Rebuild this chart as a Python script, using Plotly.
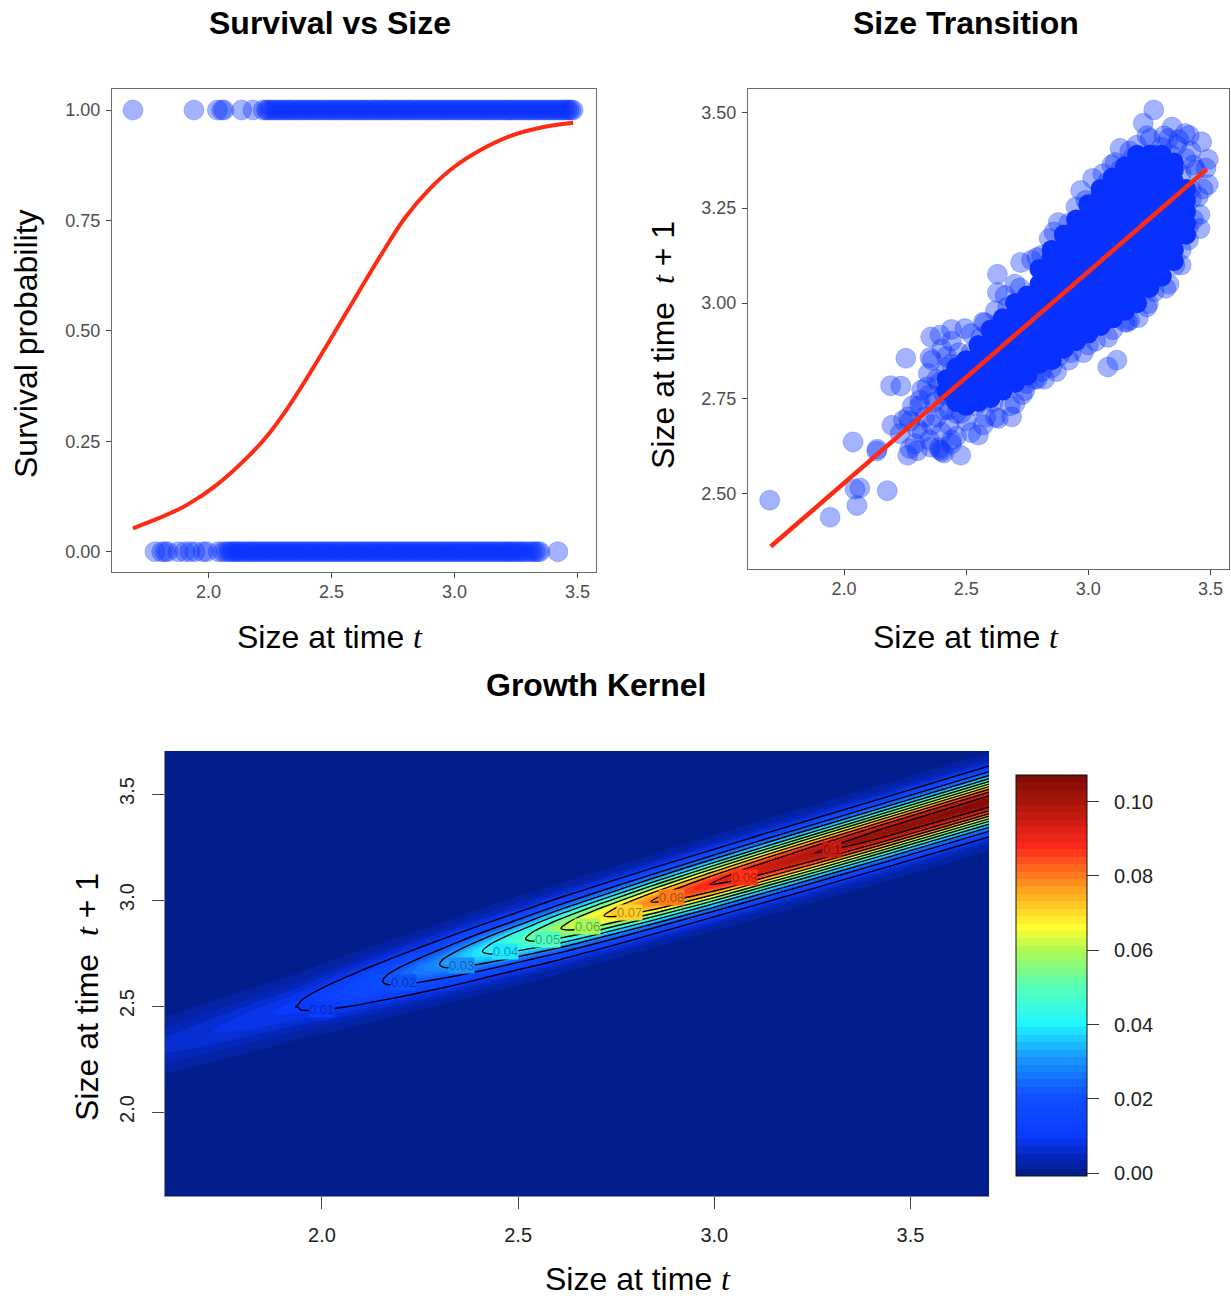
import plotly.graph_objects as go

W, H = 1231, 1296

# ---------- Survival vs Size ----------
survived_size = [1.693,1.941,2.036,2.054,2.063,2.135,2.181,2.223,2.236,2.241,2.252,2.263,2.271,2.279,2.292,2.301,2.309,2.322,2.331,2.338,2.351,2.36,2.372,2.379,2.391,2.402,2.409,2.421,2.43,2.441,2.449,2.462,2.47,2.481,2.492,2.5,2.512,2.521,2.529,2.541,2.552,2.56,2.571,2.582,2.589,2.602,2.61,2.621,2.632,2.64,2.649,2.661,2.672,2.68,2.691,2.7,2.712,2.721,2.73,2.739,2.751,2.762,2.77,2.781,2.79,2.802,2.811,2.82,2.829,2.842,2.85,2.861,2.872,2.88,2.889,2.901,2.91,2.922,2.93,2.941,2.95,2.962,2.97,2.981,2.99,3.001,3.012,3.02,3.031,3.04,3.052,3.06,3.071,3.082,3.09,3.101,3.112,3.12,3.131,3.14,3.15,3.162,3.17,3.181,3.19,3.202,3.211,3.22,3.231,3.24,3.25,3.262,3.271,3.28,3.291,3.302,3.31,3.322,3.33,3.341,3.35,3.362,3.371,3.38,3.39,3.402,3.41,3.421,3.43,3.439,3.449,3.458,3.466,3.474,3.482]
died_size = [1.783,1.81,1.823,1.835,1.877,1.904,1.925,1.945,1.978,1.993,2.04,2.058,2.071,2.083,2.092,2.101,2.112,2.12,2.129,2.141,2.15,2.162,2.171,2.18,2.189,2.201,2.21,2.222,2.23,2.241,2.25,2.262,2.27,2.281,2.29,2.301,2.312,2.32,2.331,2.34,2.352,2.36,2.371,2.38,2.391,2.4,2.412,2.42,2.431,2.44,2.45,2.462,2.47,2.481,2.49,2.501,2.51,2.522,2.53,2.541,2.55,2.561,2.572,2.58,2.591,2.6,2.611,2.62,2.632,2.64,2.651,2.66,2.672,2.68,2.691,2.7,2.711,2.72,2.731,2.742,2.75,2.761,2.77,2.782,2.79,2.801,2.81,2.821,2.83,2.842,2.85,2.861,2.87,2.881,2.89,2.902,2.91,2.921,2.93,2.941,2.95,2.962,2.97,2.981,2.99,3.001,3.01,3.022,3.03,3.041,3.05,3.061,3.07,3.082,3.09,3.101,3.11,3.12,3.132,3.14,3.151,3.16,3.17,3.182,3.19,3.2,3.211,3.22,3.232,3.24,3.25,3.26,3.272,3.28,3.292,3.305,3.316,3.327,3.338,3.347,3.42]
survival_flag_alive = [1.0] * len(survived_size)
survival_flag_dead = [0.0] * len(died_size)
curve_size = [1.693,1.803,1.913,2.035,2.157,2.238,2.319,2.4,2.482,2.587,2.697,2.799,2.9,2.998,3.104,3.226,3.348,3.482]
curve_prob = [0.053,0.077,0.106,0.152,0.213,0.262,0.323,0.393,0.468,0.566,0.668,0.756,0.822,0.871,0.909,0.941,0.96,0.971]

# ---------- Size Transition ----------
edge_t = [3.268,3.225,3.343,3.396,3.413,3.464,3.491,3.482,3.491,3.457,3.457,3.41,3.355,3.317,3.246,3.205,3.17,3.13,3.096,3.018,2.969,2.95,2.877,2.86,2.723,2.628,2.628,2.768,2.809,3.198,3.253,3.328,3.362,3.43,3.423,
          1.696,1.943,2.045,2.065,2.053,2.177,2.037,2.136,2.134,2.253,2.191,2.233,2.196,2.229,2.243,2.263,2.261,2.27,2.3,2.355,2.393,2.409,2.478,2.55,2.632,2.686,2.7,2.355,2.393,2.44,2.495,2.577,2.352,2.345,2.318,2.311,2.748,
          3.08,3.117,3.3,3.27,3.38,3.43,3.45,3.47,3.44,3.42,3.37,3.31,3.24,3.17,3.11,3.06,2.99,2.92,2.84,2.79,2.7,2.66,2.62,2.57,2.52,
          3.15,3.1,3.03,2.98,2.92,2.87,2.82,2.79,2.73,2.68,2.62,2.57,2.52,2.46,2.44,
          2.28,2.33,2.36,2.4,2.43,2.46,2.37,2.41,2.34,2.38,2.42,2.36,2.4,2.44,2.32,2.35,2.39,2.4,2.29,2.3,2.27,2.44,2.38,2.31,2.35,2.41,2.44,2.47,2.46,2.39,
          2.43,2.45,2.47,2.49,2.42,2.44,2.48,2.5,2.52,2.54,2.56,2.58,2.6,2.61,2.64,2.67,2.72,2.74,2.78,2.81,2.85,2.88,2.9,2.93,2.97,3.0,3.04,3.08,3.12,3.16,3.2,3.24,3.28,3.33,3.38,3.41,3.42,3.4,3.38,3.34,3.3,3.26,3.22,3.18,3.13,3.08,3.04,3.0,2.95,2.9,2.85,2.8,2.76,2.71,2.66,2.6,2.55,2.5]
edge_next = [3.508,3.473,3.463,3.446,3.441,3.424,3.378,3.355,3.312,3.233,3.196,3.166,3.1,3.039,2.999,2.962,2.955,3.407,3.363,3.328,3.296,3.253,3.212,3.187,3.107,3.076,3.028,3.113,3.126,3.415,3.433,3.433,3.415,3.363,3.275,
             2.482,2.437,2.511,2.514,2.468,2.507,2.635,2.616,2.611,2.855,2.783,2.782,2.679,2.657,2.692,2.701,2.6,2.618,2.612,2.621,2.614,2.606,2.6,2.653,2.697,2.701,2.736,2.911,2.916,2.931,2.933,2.948,2.857,2.815,2.772,2.745,2.789,
             2.832,2.85,3.07,3.03,3.14,3.22,3.28,3.3,3.35,3.4,3.43,3.44,3.44,3.4,3.37,3.34,3.27,3.21,3.17,3.12,3.05,3.02,2.98,2.95,2.92,
             2.95,2.93,2.9,2.87,2.85,2.82,2.8,2.8,2.76,2.73,2.7,2.68,2.66,2.65,2.63,
             2.73,2.7,2.68,2.66,2.68,2.71,2.74,2.76,2.78,2.8,2.83,2.85,2.88,2.9,2.66,2.64,2.62,2.61,2.63,2.67,2.69,2.64,2.7,2.73,2.76,2.72,2.8,2.87,2.83,2.79,
             2.72,2.75,2.78,2.82,2.86,2.84,2.71,2.69,2.87,2.73,2.91,2.7,2.93,2.74,2.95,2.99,3.04,2.77,2.8,2.82,2.83,2.86,3.12,2.87,3.17,2.89,3.24,2.91,3.33,2.95,3.38,2.99,3.39,3.05,3.1,3.2,3.3,3.38,3.34,3.39,3.41,3.39,3.37,3.38,3.35,3.32,3.27,3.24,3.19,3.14,3.1,3.04,2.98,2.94,2.9,2.86,2.81,2.77]
core_columns = [2.42,2.46,2.5,2.55,2.6,2.65,2.7,2.75,2.8,2.85,2.9,2.95,3.0,3.05,3.1,3.15,3.2,3.25,3.3,3.35,3.4]
core_next = [
 [2.77,2.8],
 [2.74,2.77,2.8,2.83],
 [2.73,2.76,2.79,2.82,2.85],
 [2.74,2.77,2.8,2.83,2.86,2.89],
 [2.75,2.78,2.81,2.84,2.87,2.9,2.93],
 [2.77,2.8,2.83,2.86,2.89,2.92,2.96],
 [2.79,2.82,2.85,2.88,2.91,2.94,2.97,3.0],
 [2.81,2.84,2.87,2.9,2.93,2.96,2.99,3.02],
 [2.84,2.87,2.9,2.93,2.96,2.99,3.02,3.05,3.09],
 [2.85,2.88,2.91,2.94,2.97,3.0,3.03,3.06,3.09,3.12,3.14],
 [2.88,2.91,2.94,2.97,3.0,3.03,3.06,3.09,3.12,3.15,3.18],
 [2.9,2.93,2.96,2.99,3.02,3.05,3.08,3.11,3.14,3.17,3.2,3.22],
 [2.92,2.95,2.98,3.01,3.04,3.07,3.1,3.14,3.17,3.2,3.23,3.26],
 [2.94,2.97,3.0,3.03,3.06,3.09,3.12,3.16,3.19,3.22,3.25,3.28,3.3],
 [2.96,2.99,3.02,3.05,3.08,3.11,3.14,3.17,3.2,3.23,3.27,3.3,3.33],
 [2.98,3.01,3.04,3.07,3.1,3.13,3.16,3.19,3.22,3.25,3.28,3.31,3.34,3.36],
 [3.0,3.03,3.06,3.09,3.12,3.16,3.19,3.22,3.25,3.28,3.31,3.34,3.37,3.39],
 [3.04,3.07,3.1,3.13,3.16,3.19,3.22,3.25,3.28,3.31,3.34,3.37,3.39],
 [3.07,3.1,3.13,3.16,3.19,3.22,3.25,3.28,3.31,3.34,3.37,3.39],
 [3.11,3.14,3.17,3.2,3.23,3.26,3.29,3.32,3.35,3.37],
 [3.18,3.21,3.24,3.27,3.3],
]
fit_t = [1.7,3.485]
fit_next = [2.36,3.352]

# ---------- Growth Kernel: values read across the ridge at each station ----------
station_t = [1.6,1.75,1.94,2.05,2.155,2.3,2.41,2.52,2.61,2.72,2.84,2.99,3.13,3.26,3.45,3.7]
ridge_next = [2.314,2.396,2.5,2.56,2.618,2.697,2.758,2.818,2.867,2.927,2.993,3.075,3.152,3.223,3.327,3.465]
offset_half = [0,0.02,0.04,0.06,0.08,0.1,0.13,0.16,0.19,0.22,0.26,0.3]
density_half = [
 [.0058,.0056,.0051,.0042,.0033,.0024,.0013,.0006,.0003,.0001,0,0],
 [.0075,.0072,.0065,.0055,.0043,.0032,.0017,.0008,.0003,.0001,0,0],
 [.0101,.0098,.0088,.0074,.0058,.0043,.0023,.0011,.0004,.0002,0,0],
 [.0147,.0142,.0128,.0108,.0085,.0062,.0034,.0016,.0006,.0002,0,0],
 [.0201,.0194,.0175,.0147,.0116,.0085,.0047,.0022,.0009,.0003,.0001,0],
 [.0301,.0291,.0262,.0220,.0173,.0127,.0070,.0033,.0013,.0005,.0001,0],
 [.0401,.0387,.0349,.0294,.0231,.0169,.0093,.0044,.0018,.0006,.0001,0],
 [.0501,.0484,.0436,.0367,.0288,.0211,.0116,.0055,.0022,.0008,.0001,0],
 [.0601,.0581,.0523,.0440,.0346,.0253,.0139,.0066,.0026,.0009,.0002,0],
 [.0701,.0677,.0611,.0513,.0403,.0295,.0163,.0076,.0031,.0011,.0002,0],
 [.0801,.0774,.0698,.0586,.0461,.0337,.0186,.0087,.0035,.0012,.0002,0],
 [.0901,.0870,.0785,.0660,.0518,.0379,.0209,.0098,.0040,.0014,.0003,0],
 [.0960,.0927,.0836,.0703,.0552,.0404,.0223,.0105,.0042,.0015,.0003,0],
 [.1001,.0967,.0872,.0733,.0576,.0421,.0232,.0109,.0044,.0015,.0003,0],
 [.1040,.1005,.0906,.0761,.0598,.0438,.0241,.0113,.0046,.0016,.0003,0],
 [.1070,.1034,.0932,.0783,.0615,.0450,.0248,.0117,.0047,.0016,.0003,0],
]
contour_labels = ["0.01","0.02","0.03","0.04","0.05","0.06","0.07","0.08","0.09","0.1"]
label_t = [1.998,2.207,2.355,2.467,2.574,2.678,2.783,2.89,3.076,3.3]
label_next = [2.486,2.609,2.689,2.755,2.816,2.877,2.939,3.01,3.104,3.24]
label_patch = ["#0a3cff","#0f50ff","#1a90ff","#20e8ff","#50ffc0","#a5f85a","#ffd028","#ff7a1e","#ff3018","#c81c10"]
kernel_ticks = [0,0.02,0.04,0.06,0.08,0.1]

BLUE = "rgb(8,50,255)"
GHOST = "rgba(8,50,255,0.37)"
GHOST_RIM = "rgba(8,50,255,0.25)"
RED = "#ff2a12"
NAVY = "#021e8a"
scale = [[0.0,"#021a80"],[0.05,"#0428c0"],[0.1,"#0a3cff"],[0.2,"#0f50ff"],[0.3,"#1a9cff"],[0.38,"#20f8ff"],[0.47,"#55ffb8"],[0.56,"#aaf855"],[0.62,"#ffff30"],[0.7,"#ffb020"],[0.75,"#ff7a1e"],[0.82,"#ff2a1c"],[0.89,"#c81c10"],[1.0,"#7a0c05"]]

def px_x(a, b): return [a / W, b / W]
def px_y(t, b): return [1 - b / H, 1 - t / H]

fig = go.Figure()

# Panel 1
for xs, ys in ((survived_size, survival_flag_alive), (died_size, survival_flag_dead)):
    fig.add_trace(go.Scatter(x=xs, y=ys, mode="markers", xaxis="x", yaxis="y", showlegend=False,
                             marker=dict(size=20, color=GHOST, line=dict(width=1, color=GHOST_RIM))))
fig.add_trace(go.Scatter(x=curve_size, y=curve_prob, mode="lines", xaxis="x", yaxis="y", showlegend=False,
                         line=dict(color=RED, width=4, shape="spline", smoothing=1)))

# Panel 2
core_t = [c for c, col in zip(core_columns, core_next) for _ in col]
core_y = [v for col in core_next for v in col]
fig.add_trace(go.Scatter(x=core_t, y=core_y, mode="markers", xaxis="x2", yaxis="y2", showlegend=False,
                         marker=dict(size=20, color=BLUE)))
fig.add_trace(go.Scatter(x=edge_t, y=edge_next, mode="markers", xaxis="x2", yaxis="y2", showlegend=False,
                         marker=dict(size=20, color=GHOST, line=dict(width=1, color=GHOST_RIM))))
fig.add_trace(go.Scatter(x=fit_t, y=fit_next, mode="lines", xaxis="x2", yaxis="y2", showlegend=False,
                         line=dict(color=RED, width=4.5)))

# Panel 3
offsets = [-o for o in offset_half[:0:-1]] + offset_half
density = [[row[abs(i - 11)] for row in density_half] for i in range(23)]
grid_x = [[x for x in station_t] for _ in offsets]
grid_y = [[r + o for r in ridge_next] for o in offsets]
fig.add_trace(go.Carpet(carpet="k", a=station_t, b=offsets, x=grid_x, y=grid_y, xaxis="x3", yaxis="y3",
                        aaxis=dict(showgrid=False, startline=False, endline=False, showticklabels="none", smoothing=0, minorgridcount=0),
                        baxis=dict(showgrid=False, startline=False, endline=False, showticklabels="none", smoothing=0, minorgridcount=0)))
fig.add_trace(go.Contourcarpet(carpet="k", a=station_t, b=offsets, z=density, xaxis="x3", yaxis="y3",
                               colorscale=scale, zauto=False, zmin=-0.0008, zmax=0.1072, autocontour=False,
                               contours=dict(start=-0.0008, end=0.1072, size=0.002, coloring="fill", showlines=False),
                               line=dict(width=0),
                               colorbar=dict(thickness=71, thicknessmode="pixels", len=401, lenmode="pixels",
                                             x=1016 / W, xanchor="left", y=1 - 775 / H, yanchor="top", xpad=0, ypad=0,
                                             outlinecolor="#111", outlinewidth=1, ticks="outside", ticklen=12, tickwidth=1.3,
                                             tickcolor="#333", tickvals=kernel_ticks, ticktext=["&nbsp;&nbsp;%.2f" % t for t in kernel_ticks],
                                             tickfont=dict(size=20, color="#222"))))
fig.add_trace(go.Contourcarpet(carpet="k", a=station_t, b=offsets, z=density, xaxis="x3", yaxis="y3", showscale=False,
                               autocontour=False, contours=dict(start=0.01, end=0.1, size=0.01, coloring="none"),
                               line=dict(color="black", width=1.4)))

ax_common = dict(showgrid=False, zeroline=False, showline=True, mirror=True, linecolor="#6b6b6b", linewidth=1.4,
                 ticks="outside", ticklen=5, tickwidth=1.4, tickcolor="#444", tickfont=dict(size=18, color="#4d4d4d"))
heat_ax = dict(showgrid=False, zeroline=False, showline=True, linecolor="#8a8a8a", linewidth=1,
               ticks="outside", ticklen=12, tickwidth=1.3, tickcolor="#444", tickfont=dict(size=20, color="#222"))

t_math = "<i><span style=\"font-family:'Liberation Serif'\">t</span></i>"
def note(text, x, y, size=32, angle=0, color="black", bold=False):
    return dict(text="<b>%s</b>" % text if bold else text, x=x / W, y=1 - y / H, xref="paper", yref="paper",
                showarrow=False, xanchor="center", yanchor="middle", textangle=angle, font=dict(size=size, color=color))
annos = [
    note("Survival vs Size", 330, 23, bold=True),
    note("Size Transition", 966, 23, bold=True),
    note("Growth Kernel", 596, 685, bold=True),
    note("Survival probability", 26, 344, angle=-90),
    note("Size at time " + t_math, 330, 637),
    note("Size at time " + t_math, 966, 637),
    note("Size at time &nbsp;" + t_math + " + 1", 663, 345, angle=-90),
    note("Size at time " + t_math, 638, 1279),
    note("Size at time &nbsp;" + t_math + " + 1", 87, 997, angle=-90),
]
for txt, xv, yv, bg in zip(contour_labels, label_t, label_next, label_patch):
    annos.append(dict(text=txt, x=xv, y=yv, xref="x3", yref="y3", showarrow=False, bgcolor=bg, borderpad=0,
                      font=dict(size=13, color="rgba(0,0,0,0.38)")))

fig.update_layout(
    width=W, height=H, margin=dict(l=0, r=0, t=0, b=0), paper_bgcolor="white", plot_bgcolor="white", showlegend=False,
    font=dict(family="Liberation Sans, Arial, sans-serif"),
    xaxis=dict(domain=px_x(112, 596), range=[1.608, 3.575], tickvals=[2, 2.5, 3, 3.5], ticktext=["2.0", "2.5", "3.0", "3.5"], ticklabelstandoff=-2, **ax_common),
    yaxis=dict(domain=px_y(89, 572), range=[-0.046, 1.0476], tickvals=[0, 0.25, 0.5, 0.75, 1], ticktext=["0.00", "0.25", "0.50", "0.75", "1.00"], ticklabelstandoff=2, **ax_common),
    xaxis2=dict(domain=px_x(748, 1229), anchor="y2", range=[1.607, 3.576], tickvals=[2, 2.5, 3, 3.5], ticktext=["2.0", "2.5", "3.0", "3.5"], ticklabelstandoff=-2, **ax_common),
    yaxis2=dict(domain=px_y(89, 569), anchor="x2", range=[2.301, 3.563], tickvals=[2.5, 2.75, 3, 3.25, 3.5], ticktext=["2.50", "2.75", "3.00", "3.25", "3.50"], ticklabelstandoff=2, **ax_common),
    xaxis3=dict(domain=px_x(165, 989), anchor="y3", range=[1.6, 3.7], tickvals=[2, 2.5, 3, 3.5], ticktext=["2.0", "2.5", "3.0", "3.5"], ticklabelstandoff=9, **heat_ax),
    yaxis3=dict(domain=px_y(751, 1196), anchor="x3", range=[1.604, 3.703], tickvals=[2, 2.5, 3, 3.5], ticktext=["2.0", "2.5", "3.0", "3.5"], tickangle=-90, ticklabelstandoff=10, **heat_ax),
    annotations=annos,
)
fig.add_shape(type="rect", xref="x3", yref="y3", x0=1.6, x1=3.7, y0=1.604, y1=3.703, fillcolor=NAVY, line_width=0, layer="below")

fig.write_html("out.html", config={"displayModeBar": False}, post_script="document.body.style.margin='0';")
